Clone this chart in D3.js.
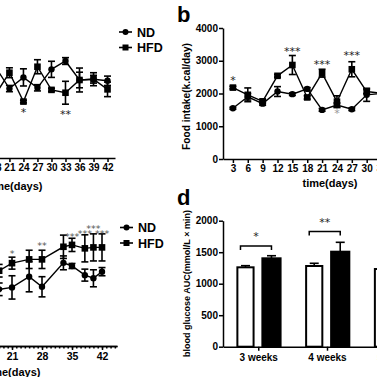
<!DOCTYPE html>
<html>
<head>
<meta charset="utf-8">
<script src="https://cdn.jsdelivr.net/npm/d3@7"></script>
<style>
body { margin: 0; background: #fff; }
svg { display: block; font-family: "Liberation Sans", Arial, sans-serif; }
</style>
</head>
<body>
<svg id="fig"></svg>
<script>
// panel a (y axis is outside the crop)
const daysA = [18, 21, 24, 27, 30, 33, 36, 39, 42];
const ndA = [3.50, 2.67, 3.10, 2.70, 3.41, 3.73, 3.00, 3.03, 2.97];
const ndAErr = [0.15, 0.12, 0.33, 0.12, 0.31, 0.13, 0.30, 0.15, 0.18];
const hfdA = [2.44, 3.28, 2.17, 3.51, 2.62, 2.51, 3.00, 3.03, 2.64];
const hfdAErr = [0.15, 0.19, 0.05, 0.27, 0.06, 0.44, 0.46, 0.25, 0.28];
const ticksA = [3, 6, 9, 12, 15, 18, 21, 24, 27, 30, 33, 36, 39, 42];
const starsA = [{ day: 24, txt: '*', v: 1.85 }, { day: 33, txt: '**', v: 1.78 }];

// panel b food intake
const daysB = [3, 6, 9, 12, 15, 18, 21, 24, 27, 30, 33, 36];
const ndB = [1550, 1900, 1690, 2060, 1980, 2140, 1500, 1650, 1520, 1960, 2000, 2000];
const ndBErr = [30, 100, 50, 150, 40, 40, 40, 60, 40, 200, 60, 60];
const hfdB = [2180, 1960, 1760, 2540, 2870, 1880, 2620, 1750, 2740, 2060, 2010, 2000];
const hfdBErr = [40, 210, 60, 40, 290, 50, 120, 180, 230, 60, 60, 60];
const ticksB = [3, 6, 9, 12, 15, 18, 21, 24, 27, 30, 33, 36, 39, 42];
const yTicksB = [0, 1000, 2000, 3000, 4000];
const starsB = [{ day: 3, txt: '*', v: 2480 }, { day: 15, txt: '***', v: 3350 },
                { day: 21, txt: '***', v: 2950 }, { day: 27, txt: '***', v: 3240 }];

// panel c (y axis is outside the crop)
const daysC = [18, 21, 25, 28, 33, 35, 38, 40, 42];
const ndC = [18.0, 18.6, 22.0, 18.8, 26.4, 25.4, 22.5, 21.5, 23.6];
const ndCErr = [2.0, 3.7, 4.8, 3.2, 2.2, 0.8, 1.9, 2.7, 1.3];
const hfdC = [23.9, 26.3, 27.5, 27.5, 31.5, 32.1, 31.0, 31.3, 31.3];
const hfdCErr = [2.0, 1.9, 2.9, 2.9, 3.7, 2.1, 4.3, 4.3, 4.3];
const ticksC = [7, 14, 21, 28, 35, 42];
const starsC = [{ day: 21, txt: '*', v: 30.2 }, { day: 28, txt: '**', v: 32.6 },
                { day: 35, txt: '***', v: 35.7 }, { day: 38, txt: '***', v: 36.4 },
                { day: 40, txt: '***', v: 38.2 }, { day: 42, txt: '***', v: 36.4 }];

// panel d glucose AUC
const groupsD = ['3 weeks', '4 weeks', '5 weeks'];
const ndD = [1260, 1281, 1233];
const ndDErr = [26, 43, 40];
const hfdD = [1403, 1508, 1450];
const hfdDErr = [41, 149, 60];
const yTicksD = [0, 500, 1000, 1500, 2000];
const sigD = [{ g: '3 weeks', txt: '*', v: 1600 }, { g: '4 weeks', txt: '**', v: 1830 }];

const FONT = '"Liberation Sans", Arial, sans-serif';
const svg = d3.select('#fig').attr('width', 377).attr('height', 377);

function styleAxis(g, fs) {
    g.attr('font-family', FONT);
    g.selectAll('path, line').attr('stroke', '#000').attr('stroke-width', 1.5);
    g.selectAll('text').attr('font-size', fs).attr('font-weight', 'bold').attr('fill', '#000');
}

function series(g, x, y, days, vals, errs, shape) {
    const pts = days.map((d, i) => ({ d: d, v: vals[i], e: errs[i] }));
    g.append('path')
        .attr('d', d3.line().x(p => x(p.d)).y(p => y(p.v))(pts))
        .attr('fill', 'none').attr('stroke', '#000').attr('stroke-width', 1.4);
    const eb = g.append('g').attr('stroke', '#000').attr('stroke-width', 1.6);
    pts.forEach(p => {
        const cx = x(p.d);
        eb.append('line').attr('x1', cx).attr('x2', cx).attr('y1', y(p.v - p.e)).attr('y2', y(p.v + p.e));
        [p.v - p.e, p.v + p.e].forEach(v => {
            eb.append('line').attr('x1', cx - 3.5).attr('x2', cx + 3.5).attr('y1', y(v)).attr('y2', y(v));
        });
    });
    if (shape === 'circle') {
        g.selectAll(null).data(pts).join('circle')
            .attr('cx', p => x(p.d)).attr('cy', p => y(p.v)).attr('r', 3.2).attr('fill', '#000');
    } else {
        g.selectAll(null).data(pts).join('rect')
            .attr('x', p => x(p.d) - 3.3).attr('y', p => y(p.v) - 3.3)
            .attr('width', 6.6).attr('height', 6.6).attr('fill', '#000');
    }
}

function legend(x0, y0) {
    const lg = svg.append('g').attr('transform', `translate(${x0},${y0})`);
    ['ND', 'HFD'].forEach((k, i) => {
        const yy = i * 15.5;
        lg.append('line').attr('x1', 0).attr('x2', 13).attr('y1', yy).attr('y2', yy)
            .attr('stroke', '#000').attr('stroke-width', 1.6);
        if (i === 0) lg.append('circle').attr('cx', 6.5).attr('cy', yy).attr('r', 3).attr('fill', '#000');
        else lg.append('rect').attr('x', 3.5).attr('y', yy - 3).attr('width', 6).attr('height', 6).attr('fill', '#000');
        lg.append('text').attr('x', 18).attr('y', yy + 4.5).text(k)
            .attr('font-size', 12.5).attr('font-weight', 'bold').attr('font-family', FONT);
    });
}

// significance marks
function stars(g, list, xf, y, col, fs) {
    list.forEach(s => {
        g.append('text').attr('x', xf(s)).attr('y', y(s.v) + 6).attr('text-anchor', 'middle')
            .attr('font-size', fs || 11).attr('fill', col || '#222').attr('font-family', '"DejaVu Sans", sans-serif')
            .text(s.txt);
    });
}

function xLabel(x, y, fs) {
    svg.append('text').attr('x', x).attr('y', y).attr('text-anchor', 'middle')
        .attr('font-size', fs).attr('font-weight', 'bold').attr('font-family', FONT).text('time(days)');
}

const fmt = d3.format('d');

// ---- panel a
const xA = d3.scaleLinear().domain([1, 43.6]).range([-84, 115]);
const yA = d3.scaleLinear().domain([0, 5]).range([158, 28]);
const gA = svg.append('g');
gA.append('g').attr('transform', 'translate(0,158)')
    .call(d3.axisBottom(xA).tickValues(ticksA).tickSize(4).tickSizeOuter(0).tickPadding(2))
    .call(g => styleAxis(g, 10));
gA.append('g').attr('transform', `translate(${xA(1)},0)`)
    .call(d3.axisLeft(yA).ticks(5).tickSizeOuter(0)).call(g => styleAxis(g, 10));
series(gA, xA, yA, daysA, ndA, ndAErr, 'circle');
series(gA, xA, yA, daysA, hfdA, hfdAErr, 'square');
stars(gA, starsA, s => xA(s.day), yA);
xLabel(15, 189.5, 11);
legend(119, 32);

// ---- panel b
const xB = d3.scaleLinear().domain([1, 45]).range([223, 441]);
const yB = d3.scaleLinear().domain([0, 4000]).range([159, 28]);
const gB = svg.append('g');
gB.append('g').attr('transform', 'translate(0,159)')
    .call(d3.axisBottom(xB).tickValues(ticksB).tickSize(4).tickSizeOuter(0).tickPadding(2))
    .call(g => styleAxis(g, 10));
gB.append('g').attr('transform', 'translate(223,0)')
    .call(d3.axisLeft(yB).tickValues(yTicksB).tickFormat(fmt).tickSize(4).tickSizeOuter(0).tickPadding(1))
    .call(g => styleAxis(g, 10));
series(gB, xB, yB, daysB, ndB, ndBErr, 'circle');
series(gB, xB, yB, daysB, hfdB, hfdBErr, 'square');
stars(gB, starsB, s => xB(s.day), yB);
stars(gB, [{ day: 24, txt: '*', v: 1480 }], s => xB(s.day), yB, '#999');
xLabel(330, 187, 11);
svg.append('text').attr('transform', 'translate(189.5,96.5) rotate(-90)').attr('text-anchor', 'middle')
    .attr('font-size', 10.2).attr('font-weight', 'bold').attr('font-family', FONT)
    .text('Food intake(k.cal/day)');
svg.append('text').attr('x', 177).attr('y', 21.5).attr('font-size', 22).attr('font-weight', 'bold')
    .attr('font-family', FONT).text('b');

// ---- panel c
const xC = d3.scaleLinear().domain([0, 45.5]).range([-78, 117]);
const yC = d3.scaleLinear().domain([0, 40]).range([346, 220]);
const gC = svg.append('g');
gC.append('g').attr('transform', 'translate(0,346)')
    .call(d3.axisBottom(xC).tickValues(d3.range(1, 46)).tickSize(2.5).tickSizeOuter(0).tickFormat(''))
    .call(g => styleAxis(g, 10));
gC.append('g').attr('transform', 'translate(0,346)')
    .call(d3.axisBottom(xC).tickValues(ticksC).tickSize(4).tickSizeOuter(0).tickPadding(3))
    .call(g => styleAxis(g, 10.5));
gC.append('g').attr('transform', `translate(${xC(0)},0)`)
    .call(d3.axisLeft(yC).ticks(4).tickSizeOuter(0)).call(g => styleAxis(g, 10));
series(gC, xC, yC, daysC, ndC, ndCErr, 'circle');
series(gC, xC, yC, daysC, hfdC, hfdCErr, 'square');
stars(gC, starsC, s => xC(s.day), yC, '#555', 9.5);
xLabel(13, 375.5, 11);
legend(120, 227.5);

// ---- panel d
const xD = d3.scaleBand().domain(groupsD).range([223, 432]).paddingInner(0).paddingOuter(0.02);
const subD = d3.scaleBand().domain(['ND', 'HFD']).range([12, 56.2]).paddingInner(0.3);
const yD = d3.scaleLinear().domain([0, 2000]).range([346.7, 220.7]);
const gD = svg.append('g');
const barsD = groupsD.map((g, i) => [
    { g: g, k: 'ND', v: ndD[i], e: ndDErr[i] },
    { g: g, k: 'HFD', v: hfdD[i], e: hfdDErr[i] }]).flat();
const eD = gD.append('g').attr('stroke', '#000').attr('stroke-width', 1.6);
barsD.forEach(b => {
    const cx = xD(b.g) + subD(b.k) + subD.bandwidth() / 2;
    eD.append('line').attr('x1', cx).attr('x2', cx).attr('y1', yD(b.v)).attr('y2', yD(b.v + b.e));
    eD.append('line').attr('x1', cx - 4.5).attr('x2', cx + 4.5).attr('y1', yD(b.v + b.e)).attr('y2', yD(b.v + b.e));
});
gD.selectAll('rect').data(barsD).join('rect')
    .attr('x', b => xD(b.g) + subD(b.k) + (b.k === 'ND' ? 1 : 0))
    .attr('y', b => yD(b.v))
    .attr('width', b => subD.bandwidth() - (b.k === 'ND' ? 2 : 0))
    .attr('height', b => yD(0) - yD(b.v))
    .attr('fill', b => b.k === 'ND' ? '#fff' : '#000')
    .attr('stroke', '#000').attr('stroke-width', 2);
sigD.forEach(s => {
    const x1 = xD(s.g) + subD('ND') + subD.bandwidth() / 2 - 5;
    const x2 = xD(s.g) + subD('HFD') + subD.bandwidth() / 2;
    const yy = yD(s.v);
    gD.append('path').attr('d', `M${x1},${yy + 4}V${yy}H${x2}V${yy + 4}`)
        .attr('fill', 'none').attr('stroke', '#000').attr('stroke-width', 1.5);
});
stars(gD, sigD, s => xD(s.g) + (subD('ND') + subD('HFD') + subD.bandwidth()) / 2 - 2.5,
      v => yD(v) - 11.5);
gD.append('g').attr('transform', 'translate(0,346.7)')
    .call(d3.axisBottom(xD).tickSize(4).tickSizeOuter(0).tickPadding(3))
    .call(g => styleAxis(g, 10));
gD.append('g').attr('transform', 'translate(223,0)')
    .call(d3.axisLeft(yD).tickValues(yTicksD).tickFormat(fmt).tickSize(4).tickSizeOuter(0).tickPadding(1))
    .call(g => styleAxis(g, 10));
svg.append('text').attr('transform', 'translate(190,283.5) rotate(-90)').attr('text-anchor', 'middle')
    .attr('font-size', 9).attr('font-weight', 'bold').attr('font-family', FONT)
    .text('blood glucose AUC(mmol/L \u00d7 min)');
svg.append('text').attr('x', 177).attr('y', 205).attr('font-size', 22).attr('font-weight', 'bold')
    .attr('font-family', FONT).text('d');
</script>
</body>
</html>
